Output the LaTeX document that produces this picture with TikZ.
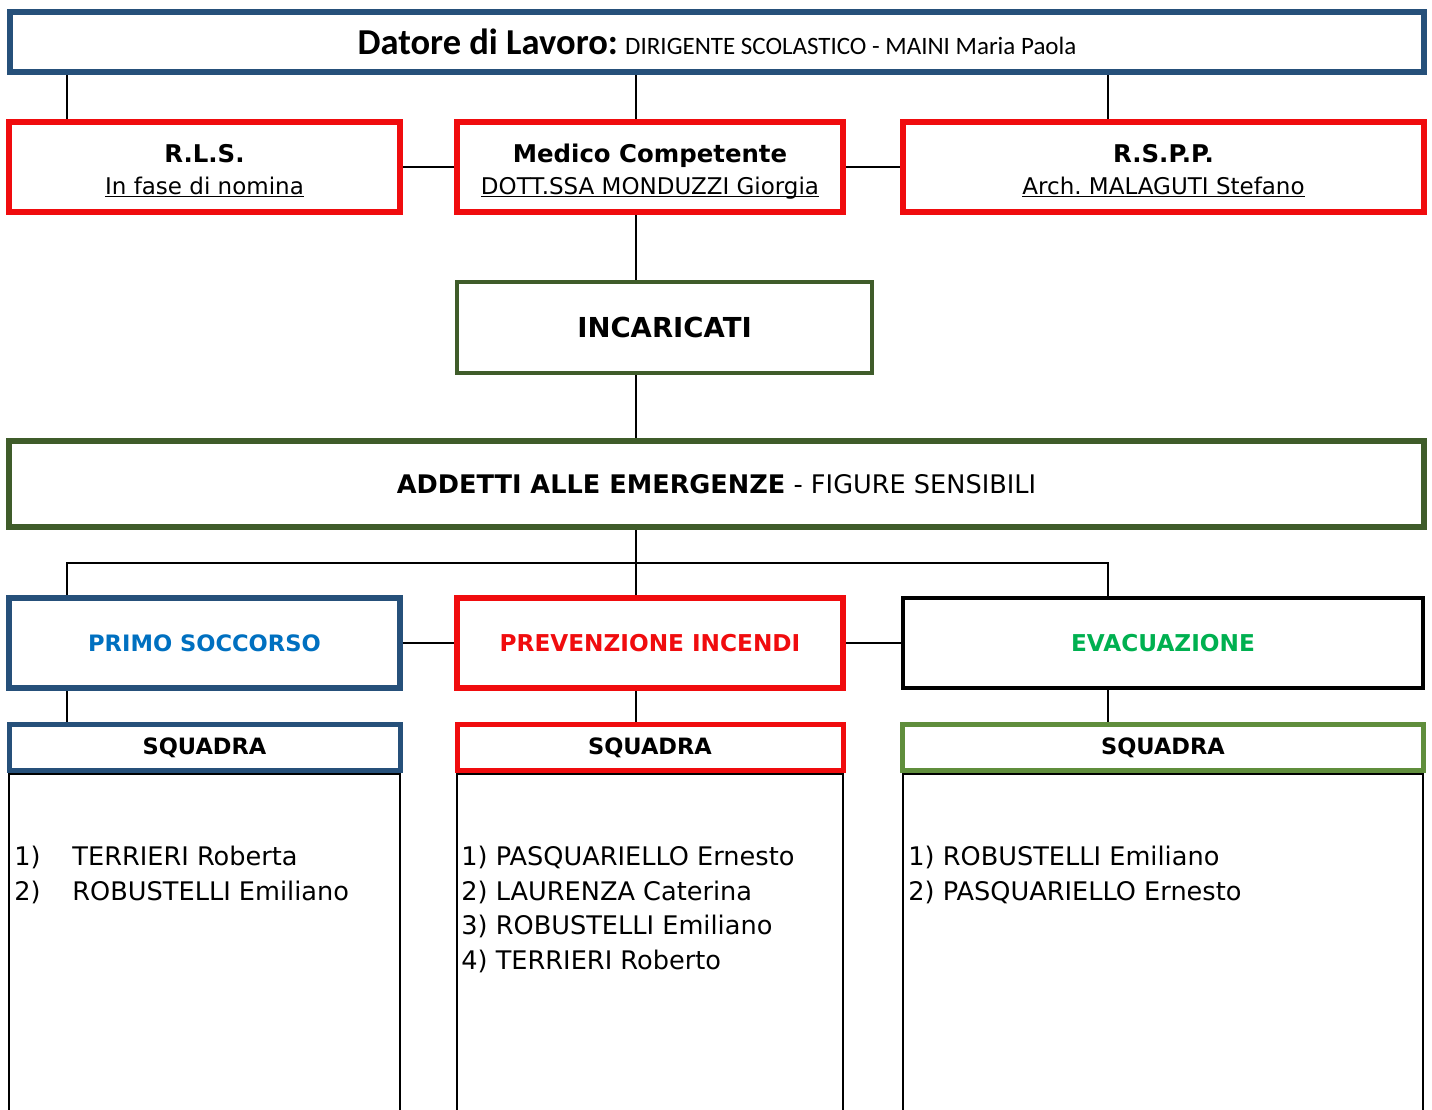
\documentclass[tikz,border=0pt]{standalone}
\usepackage{fontspec}
\setmainfont{DejaVu Sans}
\newfontfamily\calibfont{Carlito}
\usetikzlibrary{positioning,calc}
\frenchspacing

\definecolor{dblue}{RGB}{38,80,122}
\definecolor{fred}{RGB}{240,12,14}
\definecolor{dgreen}{RGB}{63,92,42}
\definecolor{lgreen}{RGB}{96,142,60}
\definecolor{tblue}{RGB}{0,112,192}
\definecolor{tgreen}{RGB}{0,176,80}
\newcommand{\uln}[1]{\underline{\smash{#1}}}

\begin{document}
\begin{tikzpicture}[x=1pt,y=-1pt,
 box/.style={draw,line width=6pt,minimum height=90pt,align=center,inner sep=0pt,
   font=\fontsize{23}{32}\selectfont},
 head/.style={box,font=\fontsize{23.2}{28}\selectfont\bfseries},
 sq/.style={draw,line width=5pt,minimum height=46pt,inner sep=0pt,
   font=\fontsize{22.5}{26}\selectfont\bfseries},
 lst/.style={draw,line width=1.5pt,minimum height=360pt,inner sep=0pt},
 names/.style={anchor=north west,align=left,inner sep=0pt,font=\fontsize{25.6}{34.5}\selectfont},
 conn/.style={line width=1.5pt}]
\useasboundingbox (0,0) rectangle (1432,1109);
\clip (0,0) rectangle (1432,1109);

% vertical lines of the chart
\coordinate (cl) at (67,0);
\coordinate (cm) at (636,0);
\coordinate (cr) at (1108,0);
\coordinate (bus) at (0,563);

\node[box,draw=dblue,minimum width=1414pt,minimum height=60pt] (datore) at (717,42)
 {{\calibfont\fontsize{36.5}{40}\selectfont\bfseries Datore di Lavoro:}
  {\calibfont\fontsize{25}{30}\selectfont DIRIGENTE SCOLASTICO - MAINI Maria Paola}};

\node[box,draw=fred,minimum width=391pt] (rls) at (204.5,167)
 {{\bfseries\fontsize{24.4}{32}\selectfont\rule{0pt}{25pt}R.L.S.}\\\uln{In fase di nomina}};
\node[box,draw=fred,minimum width=386pt,right=51pt of rls] (medico)
 {{\bfseries\fontsize{24.4}{32}\selectfont\rule{0pt}{25pt}Medico Competente}\\\uln{DOTT.SSA MONDUZZI Giorgia}};
\node[box,draw=fred,minimum width=521pt,right=54pt of medico] (rspp)
 {{\bfseries\fontsize{24.4}{32}\selectfont\rule{0pt}{25pt}R.S.P.P.}\\\uln{Arch. MALAGUTI Stefano}};

\node[head,draw=dgreen,line width=4pt,minimum width=415pt,minimum height=91pt,
  font=\fontsize{27.5}{30}\selectfont\bfseries] (inc) at (664.5,327.5) {INCARICATI};
\node[box,draw=dgreen,minimum width=1415pt,minimum height=86pt,font=\fontsize{25.6}{28}\selectfont] (addetti) at (716.5,484)
 {\textbf{ADDETTI ALLE EMERGENZE} - FIGURE SENSIBILI};

\node[head,draw=dblue,text=tblue,minimum width=391pt,font=\fontsize{22.6}{28}\selectfont\bfseries] (primo) at (204.5,643) {PRIMO SOCCORSO};
\node[head,draw=fred,text=fred,minimum width=386pt,right=51pt of primo] (prev) {PREVENZIONE INCENDI};
\node[head,draw=black,line width=4pt,text=tgreen,minimum width=520pt,right=55pt of prev] (evac) {EVACUAZIONE};

\node[sq,draw=dblue,minimum width=391pt,below=31pt of primo] (sq1) {SQUADRA};
\node[sq,draw=fred,minimum width=386pt,below=31pt of prev] (sq2) {SQUADRA};
\node[sq,draw=lgreen,minimum width=521pt,below=32pt of evac] (sq3) {SQUADRA};

\node[lst,minimum width=391pt,below=0pt of sq1] (l1) {};
\node[lst,minimum width=386pt,below=0pt of sq2] (l2) {};
\node[lst,minimum width=520pt,below=0pt of sq3] (l3) {};

\node[names,below right=73pt and 6pt of l1.north west] (n1)
 {\makebox[58pt][l]{1)}TERRIERI Roberta\\\makebox[58pt][l]{2)}ROBUSTELLI Emiliano};
\node[names,below right=73pt and 5pt of l2.north west] (n2)
 {1) PASQUARIELLO Ernesto\\2) LAURENZA Caterina\\3) ROBUSTELLI Emiliano\\4) TERRIERI Roberto};
\node[names,below right=73pt and 6pt of l3.north west] (n3)
 {1) ROBUSTELLI Emiliano\\2) PASQUARIELLO Ernesto};

% connectors
\draw[conn] (datore.south -| cl) -- (rls.north -| cl);
\draw[conn] (datore.south -| cm) -- (medico.north -| cm);
\draw[conn] (datore.south -| cr) -- (rspp.north -| cr);
\draw[conn] (rls) -- (medico);
\draw[conn] (medico) -- (rspp);
\draw[conn] (medico.south -| cm) -- (inc.north -| cm);
\draw[conn] (inc.south -| cm) -- (addetti.north -| cm);
\draw[conn] (addetti.south -| cm) -- (prev.north -| cm);
\draw[conn] (primo.north -| cl) -- (bus -| cl) -- (bus -| cr) -- (evac.north -| cr);
\draw[conn] (primo) -- (prev);
\draw[conn] (prev) -- (evac);
\draw[conn] (primo.south -| cl) -- (sq1.north -| cl);
\draw[conn] (prev.south -| cm) -- (sq2.north -| cm);
\draw[conn] (evac.south -| cr) -- (sq3.north -| cr);
\end{tikzpicture}
\end{document}
